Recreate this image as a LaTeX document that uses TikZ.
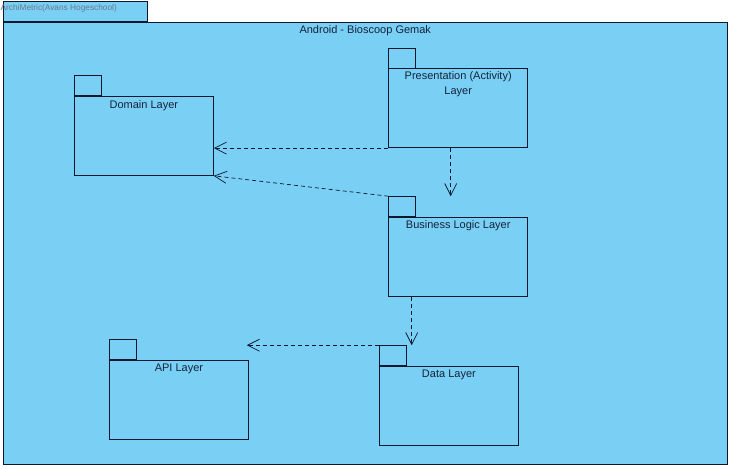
\documentclass[tikz,border=0pt]{standalone}
\usepackage{fontspec}
\setmainfont{Liberation Sans}
\usetikzlibrary{arrows.meta, calc}
\definecolor{vpblue}{RGB}{122,207,244}
\definecolor{vpline}{RGB}{12,24,48}
\definecolor{vptext}{RGB}{20,35,60}
\definecolor{vpgray}{RGB}{105,120,138}

\begin{document}
\begin{tikzpicture}[x=1pt, y=-1pt, >={Straight Barb[length=12pt, width=12pt]},
  every node/.style={font=\fontsize{11}{15}\selectfont, text=vptext},
  pkg/.style={draw=vpline, fill=vpblue, line width=0.8pt, inner sep=0pt, anchor=north west, minimum width=139pt, minimum height=79pt},
  pkgtab/.style={draw=vpline, fill=vpblue, line width=0.8pt, inner sep=0pt, anchor=south west, minimum width=27pt, minimum height=20pt},
  lbl/.style={inner sep=0pt, anchor=north, align=center},
  dep/.style={->, draw=vpline, line width=0.7pt, dash pattern=on 4pt off 3pt}]
  \useasboundingbox (0,0) rectangle (732,469);
  % outer package
  \node[pkg, minimum width=724.3pt, minimum height=441.7pt] (frame) at (2.7,22) {};
  \node[pkgtab, minimum width=144.3pt] (frametab) at (frame.north west) {};
  \node[inner sep=0pt, anchor=north west, text=vpgray, font=\fontsize{8.3}{10}\selectfont] (frametitle) at (0.5,4) {ArchiMetric(Avans Hogeschool)};
  \node[lbl] (framelbl) at ($(frame.north)+(0,3.5)$) {Android - Bioscoop Gemak};
  % layers
  \node[pkg] (domain) at (74,96) {};
  \node[pkgtab] (domaintab) at (domain.north west) {};
  \node[lbl] (domainlbl) at ($(domain.north)+(0,4.5)$) {Domain Layer};
  \node[pkg] (pres) at (388.3,68.3) {};
  \node[pkgtab] (prestab) at (pres.north west) {};
  \node[lbl] (preslbl) at ($(pres.north)+(0,3.5)$) {Presentation (Activity)\\Layer};
  \node[pkg] (bll) at (388.3,217) {};
  \node[pkgtab] (blltab) at (bll.north west) {};
  \node[lbl] (bll lbl) at ($(bll.north)+(0,3.5)$) {Business Logic Layer};
  \node[pkg] (api) at (109,360) {};
  \node[pkgtab] (apitab) at (api.north west) {};
  \node[lbl] (apilbl) at ($(api.north)+(0,3.5)$) {API Layer};
  \node[pkg] (data) at (379,366) {};
  \node[pkgtab] (datatab) at (data.north west) {};
  \node[lbl] (datalbl) at ($(data.north)+(0,3.5)$) {Data Layer};
  % dependencies
  \coordinate (presout) at ($(pres.south)+(-7.5,0)$);
  \coordinate (bllout) at ($(bll.south)+(-46.5,0)$);
  \draw[dep] (pres.south west) -- (pres.south west -| domain.east);
  \draw[dep] (blltab.north west) -- (domain.south east);
  \draw[dep] (presout) -- (presout |- blltab.north);
  \draw[dep] (bllout) -- (bllout |- datatab.north);
  \draw[dep, shorten >=-2pt] (datatab.north west) -- (datatab.north west -| api.east);
\end{tikzpicture}
\end{document}
